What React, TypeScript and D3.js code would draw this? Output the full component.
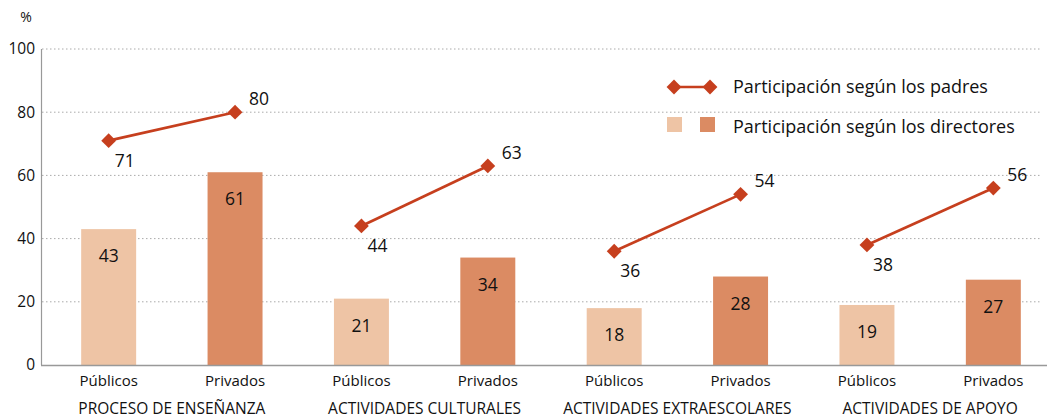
import React from 'react';
import * as d3 from 'd3';

// data
const groups = ['PROCESO DE ENSEÑANZA', 'ACTIVIDADES CULTURALES', 'ACTIVIDADES EXTRAESCOLARES', 'ACTIVIDADES DE APOYO'];
const sectors = ['Públicos', 'Privados'];
const directores = [43, 61, 21, 34, 18, 28, 19, 27];
const padres = [71, 80, 44, 63, 36, 54, 38, 56];
const yTicks = [0, 20, 40, 60, 80, 100];

const W = 1047;
const H = 419;
const FONT = '"Open Sans", "Noto Sans", sans-serif';
const LIGHT = '#EEC4A5';
const DARK = '#DB8B63';
const LINE = '#C63F1E';

const App = () => {
  const left = 42;
  const top = 49;
  const bottom = 365;

  const keys = groups.flatMap((g, gi) => sectors.map((s, si) => `${gi}-${si}`));
  const x = d3.scaleBand<string>().domain(keys).range([left, 1060]).paddingInner(0.565).paddingOuter(0.31);
  const y = d3.scaleLinear().domain([0, 100]).range([bottom, top]);
  const cx = (k: string) => (x(k) ?? 0) + x.bandwidth() / 2;

  const diamond = d3.symbol().type(d3.symbolDiamond2).size(140)();

  return (
    <svg width={W} height={H} style={{ display: 'block', position: 'absolute', left: 0, top: 0 }} fontFamily={FONT}>
      <rect width={W} height={H} fill="#fff" />
      <text x={26} y={22} fontSize={14} textAnchor="middle" fill="#111">%</text>

      {/* gridlines */}
      {yTicks.filter((t) => t > 0).map((t) => (
        <line key={t} x1={left} x2={1042} y1={y(t)} y2={y(t)} stroke="#aaa" strokeWidth={1} strokeDasharray="1.5,2.5" />
      ))}
      {yTicks.map((t) => (
        <text key={t} x={35} y={y(t)} dy="0.35em" fontSize={15.5} textAnchor="end" fill="#111">{t}</text>
      ))}

      {/* bars */}
      {directores.map((v, i) => (
        <g key={i}>
          <rect x={x(keys[i])} y={y(v)} width={x.bandwidth()} height={bottom - y(v)} fill={i % 2 === 0 ? LIGHT : DARK} />
          <text x={cx(keys[i])} y={y(v) + 27} dy="0.35em" fontSize={17.5} textAnchor="middle" fill="#111">{v}</text>
        </g>
      ))}

      {/* axes */}
      <line x1={41.5} x2={41.5} y1={top} y2={bottom} stroke="#999" strokeWidth={1.2} />
      <line x1={41} x2={W} y1={bottom + 0.5} y2={bottom + 0.5} stroke="#999" strokeWidth={1.5} />

      {/* parent lines, one segment per group */}
      {groups.map((g, gi) => {
        const vals = padres.slice(gi * 2, gi * 2 + 2);
        const path = d3
          .line<number>()
          .x((_, i) => cx(keys[gi * 2 + i]))
          .y((d) => y(d))(vals);
        return (
          <g key={g}>
            <path d={path ?? ''} fill="none" stroke={LINE} strokeWidth={2.7} />
            {vals.map((v, i) => {
              const k = keys[gi * 2 + i];
              return (
                <g key={i}>
                  <path d={diamond ?? ''} transform={`translate(${cx(k)},${y(v)})`} fill={LINE} />
                  {i === 0 ? (
                    <text x={cx(k) + 16} y={y(v) + 20} dy="0.35em" fontSize={17.5} textAnchor="middle" fill="#111">{v}</text>
                  ) : (
                    <text x={cx(k) + 24} y={y(v) - 13} dy="0.35em" fontSize={17.5} textAnchor="middle" fill="#111">{v}</text>
                  )}
                </g>
              );
            })}
          </g>
        );
      })}

      {/* x labels */}
      {keys.map((k, i) => (
        <text key={k} x={cx(k)} y={381} dy="0.35em" fontSize={15} textAnchor="middle" fill="#111">{sectors[i % 2]}</text>
      ))}
      {groups.map((g, gi) => (
        <text key={g} x={(cx(keys[gi * 2]) + cx(keys[gi * 2 + 1])) / 2} y={409} dy="0.35em" fontSize={15.5} textAnchor="middle" fill="#111">{g}</text>
      ))}

      {/* legend */}
      <line x1={674} x2={710} y1={87} y2={87} stroke={LINE} strokeWidth={2.7} />
      <path d={diamond ?? ''} transform="translate(674,87)" fill={LINE} />
      <path d={diamond ?? ''} transform="translate(710,87)" fill={LINE} />
      <text x={733} y={87} dy="0.35em" fontSize={18} fill="#111">Participación según los padres</text>
      <rect x={667} y={117} width={15} height={15} fill={LIGHT} />
      <rect x={700} y={117} width={15} height={15} fill={DARK} />
      <text x={733} y={127} dy="0.35em" fontSize={18} fill="#111">Participación según los directores</text>
    </svg>
  );
};

export default App;
